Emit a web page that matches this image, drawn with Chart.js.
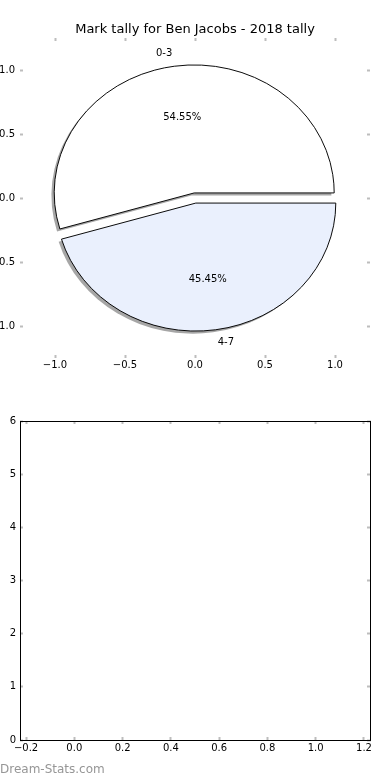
<!DOCTYPE html>
<html>
<head>
<meta charset="utf-8">
<title>Mark tally for Ben Jacobs - 2018 tally</title>
<script src="https://cdn.jsdelivr.net/npm/chart.js@4.4.1/dist/chart.umd.min.js"></script>
<style>
  html, body { margin: 0; padding: 0; background: #fff; }
  #page { position: relative; width: 390px; height: 780px; overflow: hidden; }
  canvas { position: absolute; left: 0; }
  #axes-top, #pie-top { top: 0; }
  #axes-bottom { top: 390px; }
  #credit {
    position: absolute; left: 0; top: 762px;
    font: 12px "DejaVu Sans", sans-serif; line-height: 14px; color: #969696;
  }
</style>
</head>
<body>
<div id="page">
  <canvas id="axes-top" width="390" height="390"></canvas>
  <canvas id="pie-top" width="390" height="390"></canvas>
  <canvas id="axes-bottom" width="390" height="390"></canvas>
  <div id="credit">Dream-Stats.com</div>
</div>
<script>
// chart data
const chartTitle   = 'Mark tally for Ben Jacobs - 2018 tally';
const sliceLabels  = ['0-3', '4-7'];
const sliceValues  = [6, 5];
const sliceExplode = [0.04, 0.04];

const pieLimits = [-1.25, 1.25];
const pieTicks  = [-1.0, -0.5, 0.0, 0.5, 1.0];

const emptyXLimits = [-0.225, 1.225];
const emptyXTicks  = [-0.2, 0.0, 0.2, 0.4, 0.6, 0.8, 1.0, 1.2];
const emptyYLimits = [0, 6];
const emptyYTicks  = [0, 1, 2, 3, 4, 5, 6];

// look
const TICK_FONT  = { family: 'DejaVu Sans', size: 10 };
const TICK_GREY  = '#bdbdbd';
const SHADOW     = 'rgba(77, 77, 77, 0.5)';
const SLICE_FILL = ['#ffffff', '#eaf0fd'];

Chart.defaults.font.family = 'DejaVu Sans';
Chart.defaults.color = '#000';

function decimal(v) {
    return (v < 0 ? '\u2212' : '') + Math.abs(v).toFixed(1);
}

function makeAxis(pos, lim, ticks, size, border, label, pad) {
    const vertical = (pos === 'left' || pos === 'right');
    return {
        type: 'linear',
        position: pos,
        min: lim[0],
        max: lim[1],
        afterBuildTicks: s => { s.ticks = ticks.map(v => ({ value: v })); },
        afterFit: s => { if (vertical) s.width = size; else s.height = size; },
        border: { display: border, color: '#000', width: 1 },
        grid: { drawOnChartArea: false, drawTicks: true, tickLength: -3, tickColor: TICK_GREY, tickWidth: 2 },
        ticks: {
            callback: label || (() => ''),
            padding: pad,
            font: TICK_FONT,
            color: '#000',
            autoSkip: false,
            maxRotation: 0
        }
    };
}

const baseOptions = {
    responsive: false,
    devicePixelRatio: 1,
    animation: false,
    events: []
};

// top panel: the axes the pie sits in
const axesTop = new Chart(document.getElementById('axes-top'), {
    type: 'scatter',
    data: { datasets: [] },
    options: Object.assign({}, baseOptions, {
        layout: { padding: 0 },
        plugins: {
            legend: { display: false },
            tooltip: { enabled: false },
            title: {
                display: true,
                text: chartTitle,
                color: '#000',
                font: { family: 'DejaVu Sans', size: 13, weight: 'normal' },
                padding: { top: 21.5, bottom: 0.9 }
            }
        },
        scales: {
            x:  makeAxis('bottom', pieLimits, pieTicks, 32, false, decimal, 4),
            x2: makeAxis('top',    pieLimits, pieTicks, 0,  false, null, 0),
            y:  makeAxis('left',   pieLimits, pieTicks, 20, false, decimal, 8),
            y2: makeAxis('right',  pieLimits, pieTicks, 20, false, null, 0)
        }
    })
});

// pie radius in pixels along each axis (pie has radius 1 in data units)
const xs = axesTop.scales.x, ys = axesTop.scales.y;
const rx = xs.getPixelForValue(1) - xs.getPixelForValue(0);
const ry = ys.getPixelForValue(0) - ys.getPixelForValue(1);
const area = axesTop.chartArea;
const total = sliceValues.reduce((a, b) => a + b, 0);

function drawWedge(ctx, arc, explodePx, override, dx, dy) {
    const mid = (arc.startAngle + arc.endAngle) / 2;
    ctx.save();
    ctx.translate(Math.cos(mid) * explodePx + dx, Math.sin(mid) * explodePx + dy);
    const orig = arc.options;
    if (override) arc.options = Object.assign({}, orig, override);
    arc.draw(ctx);
    arc.options = orig;
    ctx.restore();
}

const pieLook = {
    id: 'pieLook',
    beforeDatasetDraw(chart, args) {
        const ctx = chart.ctx;
        const arcs = args.meta.data;
        const cx = arcs[0].x, cy = arcs[0].y;
        ctx.save();
        // squash the circle into the axes' ellipse
        ctx.translate(cx, cy);
        ctx.scale(1, ry / rx);
        ctx.translate(-cx, -cy);
        arcs.forEach((arc, i) => drawWedge(ctx, arc, sliceExplode[i] * rx,
            { backgroundColor: SHADOW, borderWidth: 0 }, -0.02 * rx, 0.02 * rx));
        arcs.forEach((arc, i) => drawWedge(ctx, arc, sliceExplode[i] * rx, null, 0, 0));
        ctx.restore();
        return false;
    },
    afterDatasetsDraw(chart) {
        const ctx = chart.ctx;
        const arcs = chart.getDatasetMeta(0).data;
        ctx.save();
        ctx.font = '10px "DejaVu Sans"';
        ctx.fillStyle = '#000';
        ctx.textBaseline = 'middle';
        arcs.forEach((arc, i) => {
            const mid = (arc.startAngle + arc.endAngle) / 2;
            const c = Math.cos(mid), s = Math.sin(mid);
            const e = sliceExplode[i];
            ctx.textAlign = c > 0 ? 'left' : 'right';
            ctx.fillText(sliceLabels[i], arc.x + (1.1 + e) * rx * c, arc.y + (1.1 + e) * ry * s);
            ctx.textAlign = 'center';
            const pct = (sliceValues[i] / total * 100).toFixed(2) + '%';
            ctx.fillText(pct, arc.x + (0.6 + e) * rx * c, arc.y + (0.6 + e) * ry * s);
        });
        ctx.restore();
    }
};

new Chart(document.getElementById('pie-top'), {
    type: 'pie',
    data: {
        labels: sliceLabels,
        datasets: [{
            data: sliceValues,
            backgroundColor: SLICE_FILL,
            borderColor: '#000',
            borderWidth: 1,
            borderJoinStyle: 'miter',
            offset: 0
        }]
    },
    options: Object.assign({}, baseOptions, {
        // matplotlib starts at 3 o'clock and runs counter-clockwise
        rotation: 90 - 360 * sliceValues[0] / total,
        radius: rx,
        layout: {
            padding: { left: area.left, top: area.top, right: 390 - area.right, bottom: 390 - area.bottom }
        },
        plugins: { legend: { display: false }, tooltip: { enabled: false } }
    }),
    plugins: [pieLook]
});

// bottom panel: empty axes
new Chart(document.getElementById('axes-bottom'), {
    type: 'scatter',
    data: { datasets: [] },
    options: Object.assign({}, baseOptions, {
        layout: { padding: { top: 31 } },
        plugins: { legend: { display: false }, tooltip: { enabled: false } },
        scales: {
            x:  makeAxis('bottom', emptyXLimits, emptyXTicks, 40, true, decimal, 5),
            x2: makeAxis('top',    emptyXLimits, emptyXTicks, 0,  true, null, 0),
            y:  makeAxis('left',   emptyYLimits, emptyYTicks, 20, true, v => String(v), 7),
            y2: makeAxis('right',  emptyYLimits, emptyYTicks, 20, true, null, 0)
        }
    })
});
</script>
</body>
</html>
